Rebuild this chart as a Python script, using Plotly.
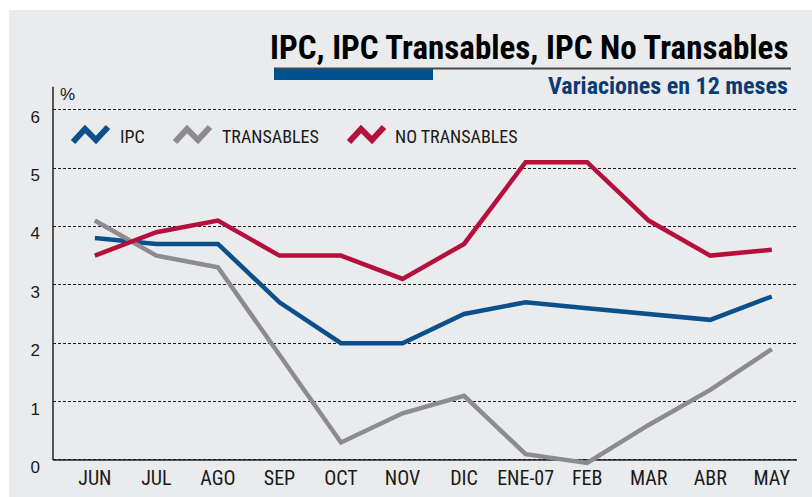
import plotly.graph_objects as go

months = ["JUN", "JUL", "AGO", "SEP", "OCT", "NOV", "DIC", "ENE-07", "FEB", "MAR", "ABR", "MAY"]
ipc = [3.8, 3.7, 3.7, 2.7, 2.0, 2.0, 2.5, 2.7, 2.6, 2.5, 2.4, 2.8]
transables = [4.1, 3.5, 3.3, 1.8, 0.3, 0.8, 1.1, 0.1, -0.05, 0.6, 1.2, 1.9]
no_transables = [3.5, 3.9, 4.1, 3.5, 3.5, 3.1, 3.7, 5.1, 5.1, 4.1, 3.5, 3.6]
y_ticks = [0, 1, 2, 3, 4, 5, 6]
series_names = ["IPC", "TRANSABLES", "NO TRANSABLES"]
colors = ["#0B4F8B", "#8C8C8E", "#B5103C"]

W, H = 812, 497
L, R, T, B = 53, 15, 80, 30
PW, PH = W - L - R, H - T - B

def px_x(p):
    return (p - L) / PW

def px_y(p):
    return (H - B - p) / PH

NARROW = "Liberation Sans Narrow, Arial Narrow, Roboto Condensed, sans-serif"
NARROW_B = "Liberation Sans Narrow, Arial Narrow, Roboto Condensed, sans-serif"
REG = "Liberation Sans, Arial, sans-serif"

fig = go.Figure()
xs = list(range(len(months)))
for name, vals, col in zip(series_names, [ipc, transables, no_transables], colors):
    fig.add_trace(go.Scatter(x=xs, y=vals, mode="lines", name=name,
                             line=dict(color=col, width=4.5), showlegend=False))

shapes = []
# gray background panel
shapes.append(dict(type="rect", xref="paper", yref="paper", layer="below",
                   x0=px_x(9), x1=px_x(W + 5), y0=px_y(10), y1=px_y(H + 5),
                   fillcolor="#EAEBED", line=dict(width=0)))
# axis lines
shapes.append(dict(type="line", xref="paper", yref="y", layer="between",
                   x0=0, x1=1, y0=0, y1=0, line=dict(color="#555555", width=2)))
shapes.append(dict(type="line", xref="paper", yref="y", layer="between",
                   x0=0, x1=0, y0=0, y1=6.39, line=dict(color="#555555", width=2)))
# title rule and blue bar
shapes.append(dict(type="line", xref="paper", yref="paper",
                   x0=px_x(274), x1=px_x(791), y0=px_y(68.5), y1=px_y(68.5),
                   line=dict(color="#4A4A4A", width=2)))
shapes.append(dict(type="rect", xref="paper", yref="paper",
                   x0=px_x(274), x1=px_x(433), y0=px_y(80), y1=px_y(69),
                   fillcolor="#00508C", line=dict(width=0)))

# custom legend with zigzag icons
icon = [(73, 142), (85, 129), (96, 140), (108, 127)]
offsets = [0, 102, 276]
text_x = [118, 220, 393]
annotations = []
for name, col, off, tx in zip(series_names, colors, offsets, text_x):
    pts = [(px_x(x + off), px_y(y)) for x, y in icon]
    path = "M " + " L ".join(f"{a:.5f},{b:.5f}" for a, b in pts)
    shapes.append(dict(type="path", xref="paper", yref="paper", path=path,
                       line=dict(color=col, width=6)))
    annotations.append(dict(xref="paper", yref="paper", x=px_x(tx), y=px_y(136),
                            xanchor="left", yanchor="middle", showarrow=False,
                            text=name, font=dict(family=NARROW, size=18, color="#1A1A1A")))

annotations.append(dict(xref="paper", yref="paper", x=px_x(790), y=px_y(47),
                        xanchor="right", yanchor="middle", showarrow=False,
                        text="<b>IPC, IPC Transables, IPC No Transables</b>",
                        font=dict(family=NARROW_B, size=33, color="#000000")))
annotations.append(dict(xref="paper", yref="paper", x=px_x(790), y=px_y(86),
                        xanchor="right", yanchor="middle", showarrow=False,
                        text="<b>Variaciones en 12 meses</b>",
                        font=dict(family=NARROW_B, size=24, color="#0A3C74")))
annotations.append(dict(xref="paper", yref="paper", x=px_x(67), y=px_y(95),
                        xanchor="center", yanchor="middle", showarrow=False,
                        text="%", font=dict(family=REG, size=17, color="#1A1A1A")))

fig.update_layout(
    width=W, height=H,
    margin=dict(l=L, r=R, t=T, b=B, autoexpand=False),
    paper_bgcolor="white", plot_bgcolor="rgba(0,0,0,0)",
    shapes=shapes, annotations=annotations,
    xaxis=dict(range=[-0.68, 11.41], tickmode="array", tickvals=xs, ticktext=months,
               showgrid=False, zeroline=False, showline=False, ticks="", automargin=False,
               ticklabelstandoff=-3,
               tickfont=dict(family=NARROW, size=20, color="#1A1A1A")),
    yaxis=dict(range=[-0.12, 6.507], tickmode="array", tickvals=y_ticks,
               ticktext=[str(v) for v in y_ticks], automargin=False,
               showgrid=True, gridcolor="#1A1A1A", gridwidth=1, griddash="3px,2px",
               zeroline=False, showline=False, ticks="",
               ticklabelstandoff=12, ticklabelshift=7,
               tickfont=dict(family=REG, size=17, color="#1A1A1A")),
)

fig.write_html("out.html", config={"displayModeBar": False},
               post_script="document.body.style.margin='0';document.body.style.overflow='hidden';")
